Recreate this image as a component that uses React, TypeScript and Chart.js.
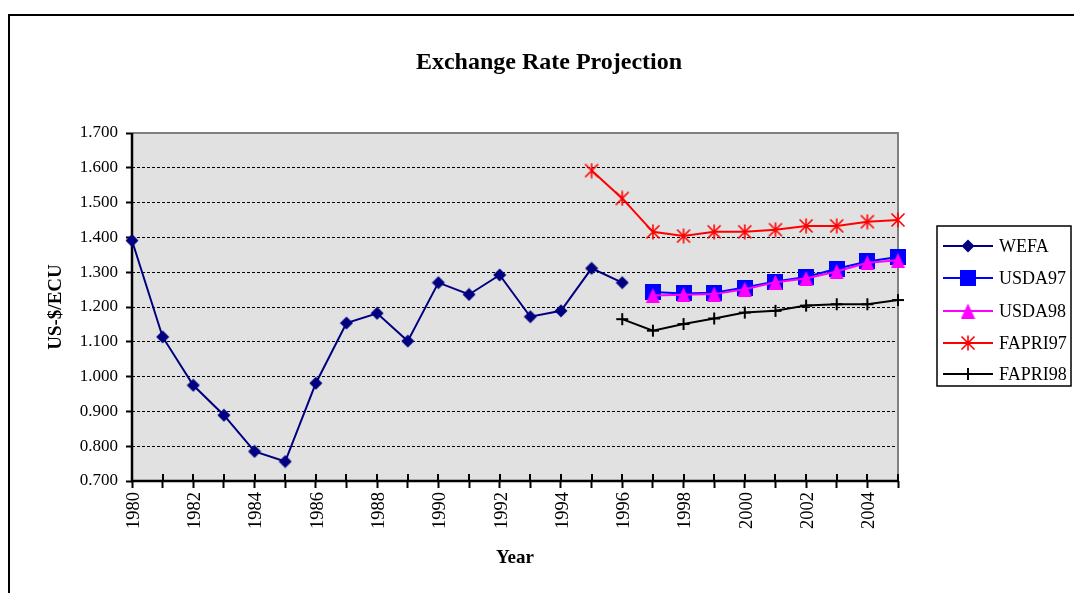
import React, { useEffect, useRef } from 'react';
import { Chart, registerables } from 'chart.js';

Chart.register(...registerables);

// ---------- data ----------
const years = [
  '1980', '1981', '1982', '1983', '1984', '1985', '1986', '1987', '1988', '1989',
  '1990', '1991', '1992', '1993', '1994', '1995', '1996', '1997', '1998', '1999',
  '2000', '2001', '2002', '2003', '2004', '2005',
];

const wefa = [
  1.391, 1.114, 0.975, 0.889, 0.785, 0.756, 0.981, 1.154, 1.182, 1.102,
  1.270, 1.236, 1.292, 1.172, 1.189, 1.311, 1.270, null, null, null,
  null, null, null, null, null, null,
];

const usda97 = [
  null, null, null, null, null, null, null, null, null, null,
  null, null, null, null, null, null, null, 1.243, 1.239, 1.241,
  1.256, 1.273, 1.286, 1.310, 1.331, 1.344,
];

const usda98 = [
  null, null, null, null, null, null, null, null, null, null,
  null, null, null, null, null, null, null, 1.233, 1.235, 1.237,
  1.251, 1.271, 1.282, 1.302, 1.327, 1.334,
];

const fapri97 = [
  null, null, null, null, null, null, null, null, null, null,
  null, null, null, null, null, 1.592, 1.512, 1.416, 1.404, 1.416,
  1.416, 1.422, 1.433, 1.433, 1.445, 1.450,
];

const fapri98 = [
  null, null, null, null, null, null, null, null, null, null,
  null, null, null, null, null, null, 1.165, 1.132, 1.151, 1.167,
  1.184, 1.189, 1.204, 1.208, 1.208, 1.220,
];

const seriesNames = ['WEFA', 'USDA97', 'USDA98', 'FAPRI97', 'FAPRI98'];
const seriesColors = ['#000080', '#0000FF', '#FF00FF', '#FF0000', '#000000'];
const seriesMarkers = ['diamond', 'square', 'triangle', 'star', 'plus'];
const seriesData = [wefa, usda97, usda98, fapri97, fapri98];

const yMin = 0.7;
const yMax = 1.7;
const yStep = 0.1;

const chartTitle = 'Exchange Rate Projection';
const xTitle = 'Year';
const yTitle = 'US-$/ECU';

const SERIF = "'Liberation Serif', 'Times New Roman', serif";

// ---------- markers ----------
function makeMarker(kind: string, color: string): HTMLCanvasElement {
  const c = document.createElement('canvas');
  let s = 16;
  if (kind === 'diamond') s = 14;
  if (kind === 'triangle') s = 15;
  if (kind === 'plus') s = 14;
  c.width = s;
  c.height = s;
  const g = c.getContext('2d')!;
  g.fillStyle = color;
  g.strokeStyle = color;
  const m = s / 2;
  if (kind === 'diamond') {
    g.beginPath();
    g.moveTo(m, 0.5);
    g.lineTo(s - 0.5, m);
    g.lineTo(m, s - 0.5);
    g.lineTo(0.5, m);
    g.closePath();
    g.fill();
  } else if (kind === 'square') {
    g.fillRect(0, 0, s, s);
  } else if (kind === 'triangle') {
    g.beginPath();
    g.moveTo(m, 0);
    g.lineTo(s - 0.5, s);
    g.lineTo(0.5, s);
    g.closePath();
    g.fill();
  } else if (kind === 'star') {
    g.lineWidth = 1.6;
    g.beginPath();
    g.moveTo(1.5, 1.5); g.lineTo(s - 1.5, s - 1.5);
    g.moveTo(s - 1.5, 1.5); g.lineTo(1.5, s - 1.5);
    g.moveTo(m, 0.5); g.lineTo(m, s - 0.5);
    g.stroke();
  } else if (kind === 'plus') {
    g.lineWidth = 2;
    g.beginPath();
    g.moveTo(m, 1); g.lineTo(m, s - 1);
    g.moveTo(1, m); g.lineTo(s - 1, m);
    g.stroke();
  }
  return c;
}

export default function App() {
  const ref = useRef<HTMLCanvasElement>(null);

  useEffect(() => {
    const canvas = ref.current;
    if (!canvas) return;

    const markers = seriesMarkers.map((k, i) => makeMarker(k, seriesColors[i]));
    const drawOrder = [5, 3, 2, 4, 1];

    const datasets = seriesNames.map((name, i) => ({
      label: name,
      data: seriesData[i],
      borderColor: seriesColors[i],
      backgroundColor: seriesColors[i],
      borderWidth: 2,
      pointStyle: markers[i] as any,
      pointRadius: 8,
      pointHoverRadius: 8,
      tension: 0,
      spanGaps: false,
      clip: false as any,
      order: drawOrder[i],
    }));

    const framePlugin = {
      id: 'frame',
      beforeDraw(chart: any) {
        const { ctx, chartArea: a } = chart;
        ctx.save();
        ctx.fillStyle = '#ffffff';
        ctx.fillRect(0, 0, chart.width, chart.height);
        // outer chart border (left and top visible)
        ctx.strokeStyle = '#000';
        ctx.lineWidth = 2;
        ctx.beginPath();
        ctx.moveTo(9, chart.height + 5);
        ctx.lineTo(9, 15);
        ctx.lineTo(chart.width + 5, 15);
        ctx.stroke();
        // plot area background
        ctx.fillStyle = '#E1E1E1';
        ctx.fillRect(a.left, a.top, a.right - a.left, a.bottom - a.top);
        // title
        ctx.fillStyle = '#000';
        ctx.font = `bold 24px ${SERIF}`;
        ctx.textAlign = 'center';
        ctx.textBaseline = 'middle';
        ctx.fillText(chartTitle, 549, 63);
        ctx.restore();
      },
      beforeDatasetsDraw(chart: any) {
        const { ctx, chartArea: a, scales } = chart;
        ctx.save();
        // plot area frame (top/right grey)
        ctx.strokeStyle = '#808080';
        ctx.lineWidth = 2;
        ctx.beginPath();
        ctx.moveTo(a.left, a.top);
        ctx.lineTo(a.right, a.top);
        ctx.lineTo(a.right, a.bottom);
        ctx.stroke();
        // inner half of x tick marks (cross ticks)
        ctx.strokeStyle = '#000';
        ctx.lineWidth = 2;
        ctx.beginPath();
        const xs = scales.x;
        for (let i = 0; i < years.length; i++) {
          const x = Math.round(xs.getPixelForValue(i));
          ctx.moveTo(x, a.bottom - 7);
          ctx.lineTo(x, a.bottom);
        }
        ctx.stroke();
        // axes lines
        ctx.lineWidth = 2.5;
        ctx.beginPath();
        ctx.moveTo(a.left, a.top);
        ctx.lineTo(a.left, a.bottom);
        ctx.lineTo(a.right, a.bottom);
        ctx.stroke();
        ctx.restore();
      },
      afterDraw(chart: any) {
        const { ctx } = chart;
        ctx.save();
        // legend box
        ctx.strokeStyle = '#000';
        ctx.lineWidth = 1.5;
        ctx.strokeRect(937, 226, 134, 160);
        ctx.font = `18px ${SERIF}`;
        ctx.textAlign = 'left';
        ctx.textBaseline = 'middle';
        const ys = [246, 278, 311, 343, 374];
        seriesNames.forEach((name, i) => {
          const y = ys[i];
          ctx.strokeStyle = seriesColors[i];
          ctx.lineWidth = 2;
          ctx.beginPath();
          ctx.moveTo(943, y);
          ctx.lineTo(993, y);
          ctx.stroke();
          const mk = markers[i];
          ctx.drawImage(mk, 968 - mk.width / 2, y - mk.height / 2);
          ctx.fillStyle = '#000';
          ctx.fillText(name, 999, y + 1);
        });
        ctx.restore();
      },
    };

    const isEdge = (v: number) => Math.abs(v - yMin) < 1e-6 || Math.abs(v - yMax) < 1e-6;

    const chart = new Chart(canvas, {
      type: 'line',
      data: { labels: years, datasets: datasets as any },
      options: {
        animation: false,
        responsive: false,
        maintainAspectRatio: false,
        events: [],
        layout: { padding: { top: 133, right: 176, bottom: 0, left: 0 } },
        plugins: {
          legend: { display: false },
          title: { display: false },
          tooltip: { enabled: false },
        },
        scales: {
          x: {
            type: 'category',
            offset: false,
            grid: {
              display: true,
              drawOnChartArea: false,
              drawTicks: true,
              tickLength: 7,
              tickColor: '#000',
              tickWidth: 2,
            },
            border: { display: false },
            ticks: {
              autoSkip: false,
              maxRotation: 90,
              minRotation: 90,
              padding: 4,
              labelOffset: 2,
              color: '#000',
              font: { family: SERIF, size: 18.5 },
              callback: (_v: any, i: number) => (i % 2 === 0 ? years[i] : ''),
            },
            title: {
              display: true,
              text: xTitle,
              color: '#000',
              font: { family: SERIF, size: 19, weight: 'bold' },
              padding: { top: 0, bottom: 24 },
            },
            afterFit: (s: any) => {
              s.height = 112;
            },
          },
          y: {
            type: 'linear',
            min: yMin,
            max: yMax,
            grid: {
              color: (c: any) => (c.tick && isEdge(c.tick.value) ? 'rgba(0,0,0,0)' : '#000'),
              lineWidth: 1,
              tickLength: 6,
              tickColor: '#000',
              tickWidth: 2,
              tickBorderDash: [],
            } as any,
            border: { display: false, dash: [3, 2] },
            ticks: {
              stepSize: yStep,
              padding: 8,
              color: '#000',
              font: { family: SERIF, size: 17 },
              callback: (v: any) => Number(v).toFixed(3),
            },
            title: {
              display: true,
              text: yTitle,
              color: '#000',
              font: { family: SERIF, size: 19, weight: 'bold' },
              padding: { top: 45, bottom: 0 },
            },
            afterFit: (s: any) => {
              s.width = 132;
            },
          },
        },
      },
      plugins: [framePlugin],
    });

    return () => chart.destroy();
  }, []);

  return (
    <div style={{ position: 'absolute', left: 0, top: 0, width: 1074, height: 593, background: '#fff' }}>
      <canvas ref={ref} width={1074} height={593} style={{ display: 'block' }} />
    </div>
  );
}
